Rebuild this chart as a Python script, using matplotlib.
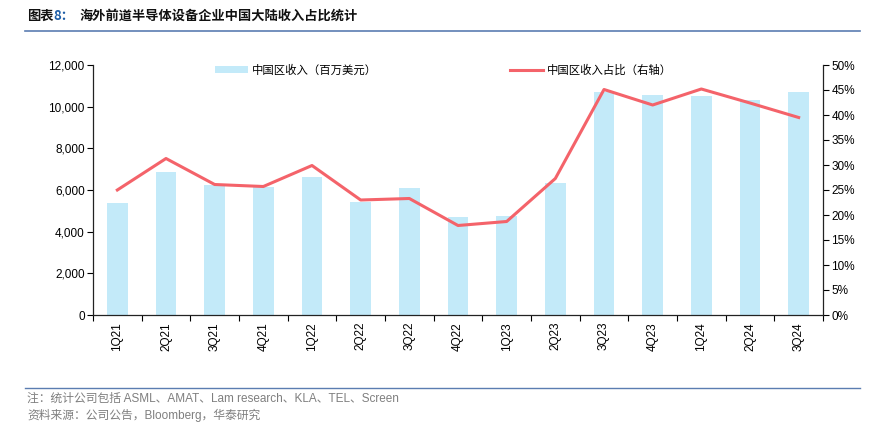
import matplotlib
matplotlib.use("Agg")
import matplotlib.pyplot as plt
import numpy as np
from matplotlib.ticker import FuncFormatter, MultipleLocator

plt.rcParams['font.family'] = ['Liberation Sans', 'Noto Sans CJK SC', 'DejaVu Sans']

quarters = ['1Q21', '2Q21', '3Q21', '4Q21', '1Q22', '2Q22', '3Q22', '4Q22',
            '1Q23', '2Q23', '3Q23', '4Q23', '1Q24', '2Q24', '3Q24']
revenue = [5380, 6880, 6240, 6130, 6610, 5440, 6080, 4720,
           4750, 6320, 10720, 10570, 10530, 10320, 10720]
share = [25.0, 31.3, 26.1, 25.7, 29.9, 23.0, 23.3, 17.9,
         18.7, 27.3, 45.1, 42.0, 45.2, 42.4, 39.5]

bar_label = '中国区收入（百万美元）'
line_label = '中国区收入占比（右轴）'

W, H = 885, 433
fig = plt.figure(figsize=(W / 100, H / 100), dpi=100)
ax = fig.add_axes([93 / W, 1 - 315 / H, (823 - 93) / W, (315 - 65) / H])
ax2 = ax.twinx()

x = np.arange(len(quarters))
bars = ax.bar(x, revenue, width=0.43, color='#C3EAF9', label=bar_label, zorder=1)
line, = ax2.plot(x, share, color='#F4636A', lw=2.2, label=line_label, zorder=3)

ax.set_xlim(-0.5, len(quarters) - 0.5)
ax.set_ylim(0, 12000)
ax2.set_ylim(0, 50)
ax.yaxis.set_major_locator(MultipleLocator(2000))
ax.yaxis.set_major_formatter(FuncFormatter(lambda v, p: f'{int(v):,}'))
ax2.yaxis.set_major_locator(MultipleLocator(5))
ax2.yaxis.set_major_formatter(FuncFormatter(lambda v, p: f'{int(v)}%'))

ax.set_xticks(x)
ax.set_xticklabels(quarters, rotation=90, fontsize=8.5)
ax.set_xticks(np.arange(-0.5, len(quarters), 1), minor=True)
ax.tick_params(axis='x', which='major', length=0, pad=5)
ax.tick_params(axis='x', which='minor', length=4, direction='out', width=0.8)
ax.tick_params(axis='y', labelsize=8.5, length=4, width=0.8, direction='out', pad=2)
ax2.tick_params(axis='y', labelsize=8.5, length=4, width=0.8, direction='out', pad=2)

for a in (ax, ax2):
    a.spines['top'].set_visible(False)
    for s in ('left', 'right', 'bottom'):
        a.spines[s].set_linewidth(0.9)
        a.spines[s].set_color('#222222')
ax2.spines['left'].set_visible(False)
ax.spines['right'].set_visible(False)
ax2.spines['bottom'].set_visible(False)
ax.set_zorder(ax2.get_zorder() - 1)
ax.patch.set_visible(True)
ax2.patch.set_visible(False)

cjk = ['Noto Sans CJK SC', 'DejaVu Sans']
fig.legend([bars], [bar_label], loc='center left', bbox_to_anchor=(215 / W, 1 - 70 / H),
           frameon=False, prop={'family': cjk, 'size': 8.2}, handlelength=2.9,
           handleheight=0.55, handletextpad=0.35, borderaxespad=0, borderpad=0)
fig.legend([line], [line_label], loc='center left', bbox_to_anchor=(510 / W, 1 - 70 / H),
           frameon=False, prop={'family': cjk, 'size': 8.2}, handlelength=2.9,
           handletextpad=0.35, borderaxespad=0, borderpad=0)

# Title
t1 = fig.text(27 / W, 1 - 16 / H, '图表', fontsize=9.5, fontweight='bold',
              family=cjk, va='center', color='#111111')
fig.canvas.draw()
bb = t1.get_window_extent()
fig.text(bb.x1 / W, 1 - 16 / H, '8：', fontsize=9.5, fontweight='bold',
         family=cjk, va='center', color='#1F5FA8')
fig.text(80 / W, 1 - 16 / H, '海外前道半导体设备企业中国大陆收入占比统计', fontsize=9.5,
         fontweight='bold', family=cjk, va='center', color='#111111')
fig.add_artist(plt.Line2D([25 / W, 860 / W], [1 - 31 / H, 1 - 31 / H],
                          color='#5B7DB1', lw=1.2))

# Footer
fig.add_artist(plt.Line2D([25 / W, 860 / W], [1 - 388 / H, 1 - 388 / H],
                          color='#5B7DB1', lw=1.0))
foot = ['Liberation Sans', 'Noto Sans CJK SC']
fig.text(27 / W, 1 - 399 / H, '注：统计公司包括 ASML、AMAT、Lam research、KLA、TEL、Screen',
         fontsize=8.5, family=foot, va='center', color='#7F7F7F')
fig.text(27 / W, 1 - 415 / H, '资料来源：公司公告，Bloomberg，华泰研究',
         fontsize=8.5, family=foot, va='center', color='#7F7F7F')

fig.savefig('out.png', dpi=100)
